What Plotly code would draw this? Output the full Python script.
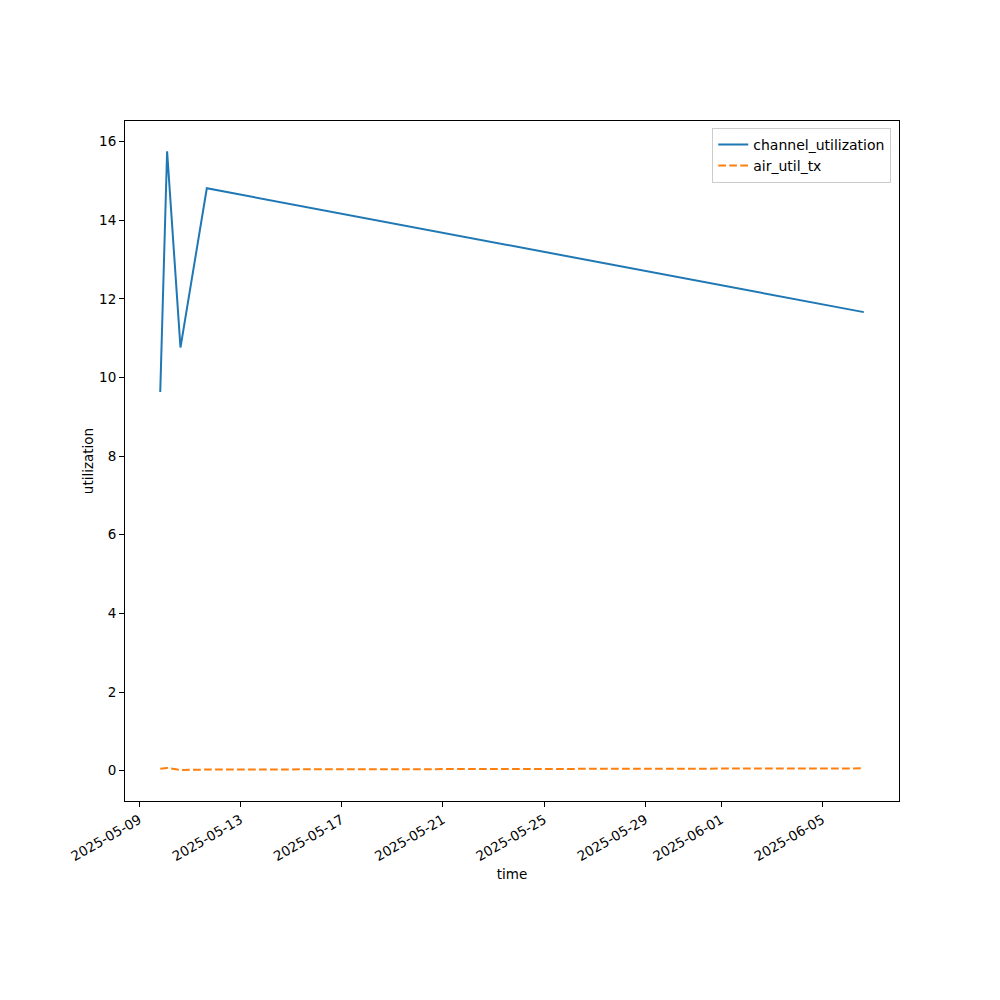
import plotly.graph_objects as go

times = ["2025-05-09 20:00", "2025-05-10 02:30", "2025-05-10 15:10",
         "2025-05-11 16:10", "2025-06-06 15:20"]
channel_utilization = [9.63, 15.75, 10.76, 14.81, 11.66]
air_util_tx = [0.05, 0.07, 0.02, 0.03, 0.06]

tick_vals = ["2025-05-09", "2025-05-13", "2025-05-17", "2025-05-21",
             "2025-05-25", "2025-05-29", "2025-06-01", "2025-06-05"]
y_ticks = [0, 2, 4, 6, 8, 10, 12, 14, 16]

font = "DejaVu Sans"

fig = go.Figure()
fig.add_trace(go.Scatter(x=times, y=channel_utilization, mode="lines",
                         name="channel_utilization",
                         line=dict(color="#1f77b4", width=2)))
fig.add_trace(go.Scatter(x=times, y=air_util_tx, mode="lines",
                         name="air_util_tx",
                         line=dict(color="#ff7f0e", width=2, dash="7.7px,3.3px")))

fig.update_layout(
    width=1000, height=1000,
    margin=dict(l=117, r=109, t=113, b=207),
    paper_bgcolor="white", plot_bgcolor="white",
    font=dict(family=font, size=13.5, color="black"),
    showlegend=True,
    legend=dict(x=0.99, y=0.99, xanchor="right", yanchor="top",
                bgcolor="rgba(255,255,255,0.8)", bordercolor="#cccccc",
                borderwidth=1, font=dict(size=14), tracegroupgap=0),
    xaxis=dict(
        type="date",
        range=["2025-05-08 10:34", "2025-06-08 00:43"],
        tickvals=tick_vals, ticktext=tick_vals,
        tickangle=-30, ticks="outside", ticklen=5, tickcolor="black",
        showline=True, linecolor="black", linewidth=1, mirror=True,
        showgrid=False, zeroline=False, automargin=False,
        title=dict(text="time", font=dict(size=13.5), standoff=6),
    ),
    yaxis=dict(
        range=[-0.77, 16.52],
        tickvals=y_ticks,
        ticks="outside", ticklen=5, tickcolor="black",
        showline=True, linecolor="black", linewidth=1, mirror=True,
        showgrid=False, zeroline=False, automargin=False,
        title=dict(text="utilization", font=dict(size=13.5), standoff=2),
    ),
)

fig.write_html("out.html")
